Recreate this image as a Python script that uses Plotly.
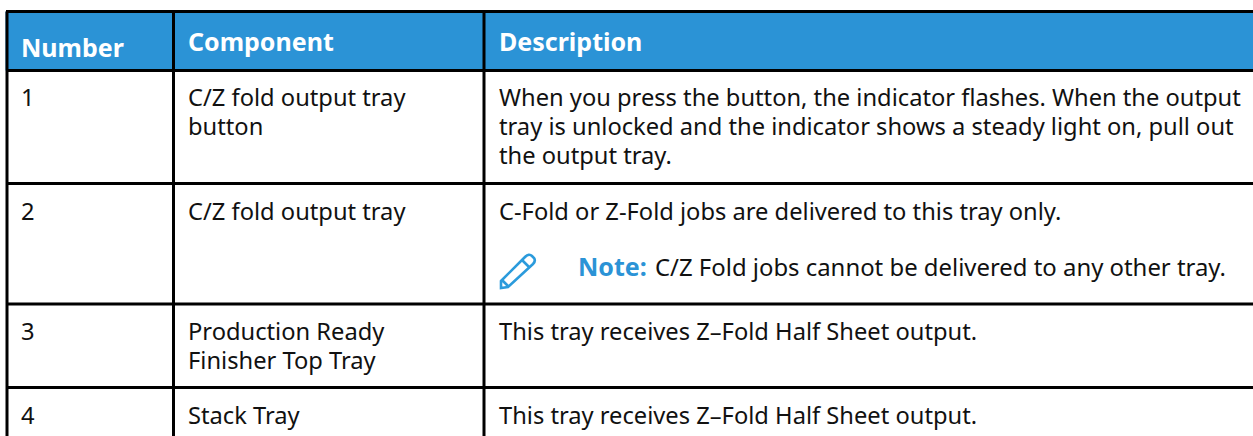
import plotly.graph_objects as go

W, H = 1253, 436
BLUE = "#2b93d6"
BLACK = "#000000"
INK = "#111111"
FONT = "Noto Sans"

headers = ["Number", "Component", "Description"]
numbers = ["1", "2", "3", "4"]
components = [
    ["C/Z fold output tray", "button"],
    ["C/Z fold output tray"],
    ["Production Ready", "Finisher Top Tray"],
    ["Stack Tray"],
]
descriptions = [
    ["When you press the button, the indicator flashes. When the output",
     "tray is unlocked and the indicator shows a steady light on, pull out",
     "the output tray."],
    ["C-Fold or Z-Fold jobs are delivered to this tray only."],
    ["This tray receives Z–Fold Half Sheet output."],
    ["This tray receives Z–Fold Half Sheet output."],
]
note_label = "Note:"
note_text = "C/Z Fold jobs cannot be delivered to any other tray."

col_lines = [7, 173.5, 484]
col_text = [20, 186.5, 497.5]
row_lines = [11.5, 70.5, 183.5, 304, 387.5]
row_text_mid = [97, 211, 331, 415]
header_y = [47, 41, 41]
FS = 23.7
HS = 25
LH = 29

fig = go.Figure()
shapes = [
    dict(type="rect", x0=5.5, x1=W, y0=row_lines[0], y1=row_lines[1], fillcolor=BLUE, line_width=0, layer="below"),
]
for y in row_lines:
    shapes.append(dict(type="line", x0=6, x1=W, y0=y, y1=y, line=dict(color=BLACK, width=3)))
for x in col_lines:
    shapes.append(dict(type="line", x0=x, x1=x, y0=row_lines[0], y1=H, line=dict(color=BLACK, width=3)))

# pencil icon
shapes.append(dict(
    type="path",
    path="M501 281 L525 257 Q529 253 532 256 L534 258 Q536 261 533 264 L508 287 L501 288 Z M502 280 L508 286 M522 260 L530 268",
    line=dict(color="#2b9bdc", width=2.6),
    fillcolor="rgba(0,0,0,0)",
))

anns = []
def text(x, y, s, color=INK, size=FS):
    anns.append(dict(x=x, y=y, text=s, showarrow=False, xanchor="left", yanchor="middle", align="left",
                     font=dict(family=FONT, size=size, color=color), xref="x", yref="y",
                     borderpad=0, bordercolor="rgba(0,0,0,0)"))

for x, y, h in zip(col_text, header_y, headers):
    text(x, y, f"<b>{h}</b>", color="#ffffff", size=HS)
for mid, n, c, d in zip(row_text_mid, numbers, components, descriptions):
    text(col_text[0], mid, n)
    for i, line in enumerate(c):
        text(col_text[1], mid + i * LH, line)
    for i, line in enumerate(d):
        text(col_text[2], mid + i * LH, line)
text(576.5, 266, f"<b>{note_label}</b>", color=BLUE, size=HS)
text(653.5, 266, note_text, size=23.9)

fig.update_layout(
    width=W, height=H, margin=dict(l=0, r=0, t=0, b=0),
    paper_bgcolor="white", plot_bgcolor="white",
    xaxis=dict(range=[0, W], visible=False, fixedrange=True),
    yaxis=dict(range=[H, 0], visible=False, fixedrange=True),
    shapes=shapes, annotations=anns, showlegend=False,
)
fig.write_html("out.html", config=dict(displayModeBar=False),
               post_script="document.body.style.margin='0';document.documentElement.style.overflow='hidden';")
